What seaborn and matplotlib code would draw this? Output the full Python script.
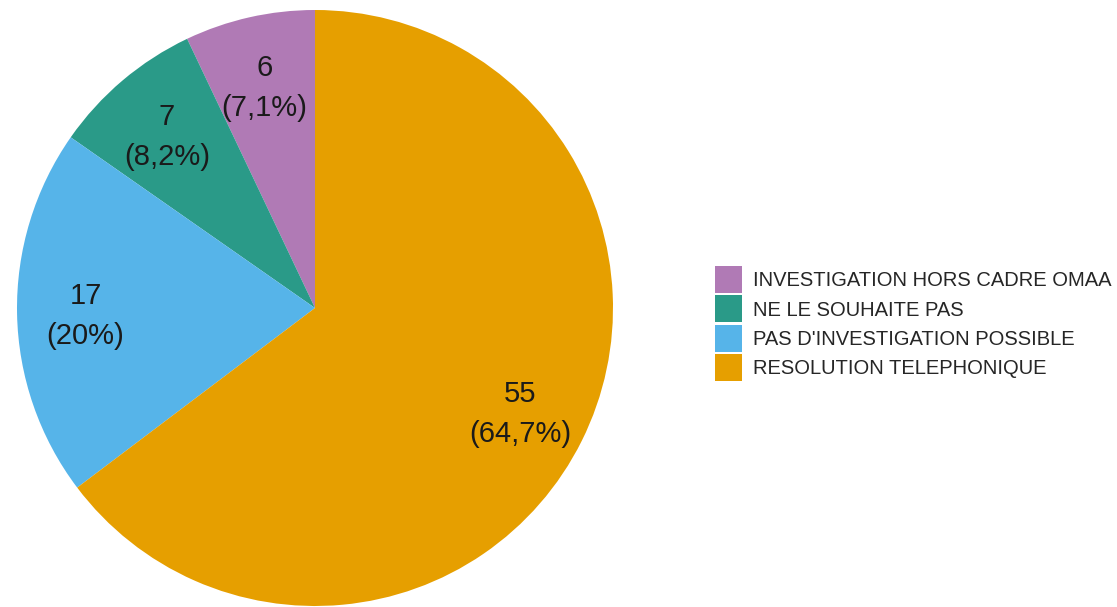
import matplotlib
matplotlib.use("Agg")
import matplotlib.pyplot as plt
import matplotlib.transforms as mtransforms
import seaborn as sns
from matplotlib.patches import Patch

# data
categories = ["INVESTIGATION HORS CADRE OMAA", "NE LE SOUHAITE PAS",
              "PAS D'INVESTIGATION POSSIBLE", "RESOLUTION TELEPHONIQUE"]
counts = [6, 7, 17, 55]
colors = ["#B07AB5", "#2A9A88", "#56B4E9", "#E69F00"]

sns.set_theme(style="white")
plt.rcParams['font.family'] = ['Liberation Sans', 'DejaVu Sans']

total = sum(counts)

def fmt_label(pct):
    # recover the count from the percentage and print it the french way
    n = int(round(pct * total / 100.0))
    p = f"{pct:.1f}".replace(".", ",")
    if p.endswith(",0"):
        p = p[:-2]
    return f"{n}\n({p}%)"

fig = plt.figure(figsize=(11.17, 6.07), dpi=100)
cx, cy, r = 315, 308, 298
ax = fig.add_axes([(cx - r) / 1117, (607 - cy - r) / 607, 2 * r / 1117, 2 * r / 607])

wedges, texts, autotexts = ax.pie(counts, colors=colors, startangle=90, counterclock=True,
                                  autopct=fmt_label, pctdistance=0.77, radius=1,
                                  wedgeprops=dict(linewidth=0),
                                  textprops=dict(fontsize=21, color="#1a1a1a", linespacing=1.55))
# labels sit a little lower in the original
for t in autotexts:
    t.set_transform(mtransforms.offset_copy(t.get_transform(), fig=fig, y=-4, units="dots"))

ax.set_xlim(-1, 1)
ax.set_ylim(-1, 1)
ax.set_aspect("equal")
ax.axis("off")

handles = [Patch(facecolor=c, edgecolor="none") for c in colors]
fig.legend(handles, categories, loc="center left", bbox_to_anchor=(715 / 1117, 1 - 323.5 / 607),
           frameon=False, fontsize=14.5, handlelength=1.34, handleheight=1.69,
           handletextpad=0.55, labelspacing=0.1, borderpad=0, borderaxespad=0)

fig.savefig("out.png", dpi=100)
